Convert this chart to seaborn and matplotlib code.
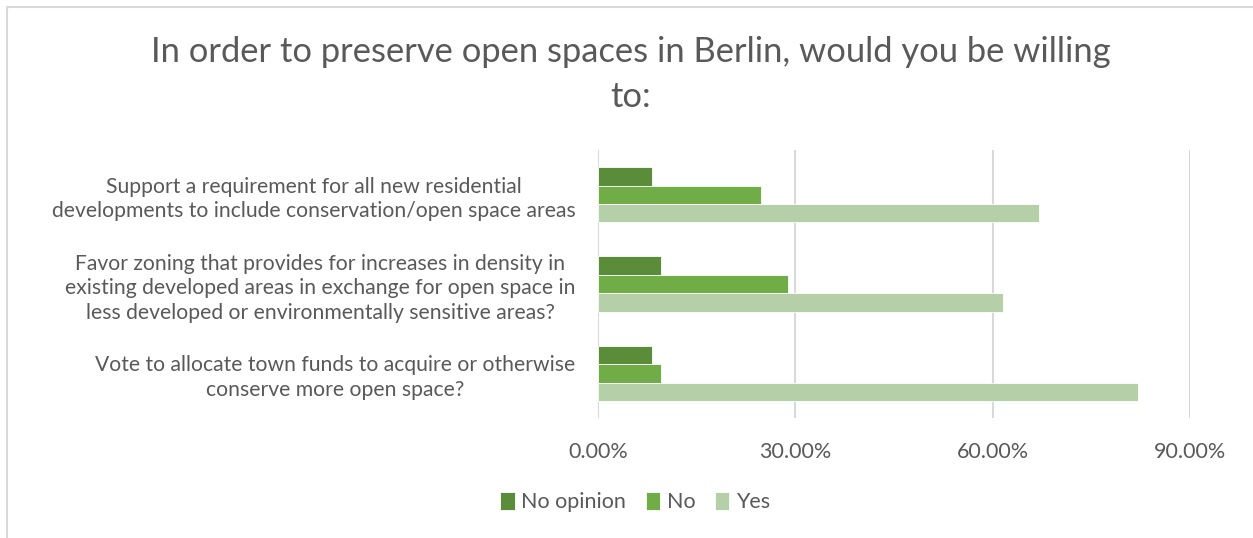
import matplotlib
matplotlib.use("Agg")
import matplotlib.pyplot as plt
from matplotlib.patches import Rectangle
from matplotlib.ticker import FuncFormatter
import seaborn as sns
import pandas as pd

questions = [
    "Support a requirement for all new residential\ndevelopments to include conservation/open space areas",
    "Favor zoning that provides for increases in density in\nexisting developed areas in exchange for open space in\nless developed or environmentally sensitive areas?",
    "Vote to allocate town funds to acquire or otherwise\nconserve more open space?",
]
answers = ["No opinion", "No", "Yes"]
no_opinion = [8.2, 9.6, 8.2]
no = [24.7, 28.8, 9.6]
yes = [67.1, 61.6, 82.2]
x_ticks = [0, 30, 60, 90]

colors = {"No opinion": "#5B8C3A", "No": "#70AD47", "Yes": "#B5CFA8"}
text_color = "#595959"

rows = []
for answer, values in zip(answers, [no_opinion, no, yes]):
    for q, v in zip(questions, values):
        rows.append({"question": q, "answer": answer, "percent": v})
df = pd.DataFrame(rows)

sns.set_theme(style="white")
plt.rcParams["font.family"] = ["Lato", "DejaVu Sans"]

fig = plt.figure(figsize=(12.53, 5.38), dpi=100)
ax = fig.add_axes([0.4775, 0.223, 0.472, 0.498])

sns.barplot(data=df, y="question", x="percent", hue="answer",
            order=questions, hue_order=answers, palette=colors,
            width=0.62, orient="h", ax=ax, legend=True,
            edgecolor="white", linewidth=0.6, saturation=1)

ax.set_xlim(0, 90)
ax.set_ylim(2.5, -0.5)
ax.set_xticks(x_ticks)
ax.xaxis.set_major_formatter(FuncFormatter(lambda v, _: f"{v:.2f}%"))
ax.grid(axis="x", color="#D9D9D9", linewidth=1.5)
ax.set_axisbelow(True)
for s in ax.spines.values():
    s.set_visible(False)
ax.set_xlabel("")
ax.set_ylabel("")
ax.tick_params(axis="x", length=0, pad=17, labelsize=15.5, labelcolor=text_color)
ax.tick_params(axis="y", length=0, pad=16.5, labelsize=15.2, labelcolor=text_color)
for lab in ax.get_yticklabels():
    lab.set_multialignment("center")
    lab.set_linespacing(1.28)

handles, labels = ax.get_legend_handles_labels()
ax.legend_.remove()
fig.legend(handles, labels, loc="center", bbox_to_anchor=(635 / 1253, 1 - 502 / 538),
           ncol=3, frameon=False, fontsize=15.5, labelcolor=text_color,
           handlelength=0.68, handleheight=0.9, handletextpad=0.3, columnspacing=0.9)

fig.text(631 / 1253, 1 - 52 / 538,
         "In order to preserve open spaces in Berlin, would you be willing",
         ha="center", va="center", fontsize=24.8, color=text_color)
fig.text(631 / 1253, 1 - 97 / 538, "to:",
         ha="center", va="center", fontsize=24.8, color=text_color)

# chart frame
fig.patches.append(Rectangle((6.5 / 1253, -0.1), 1.2, 1 - 6.5 / 538 + 0.1,
                             transform=fig.transFigure, fill=False,
                             edgecolor="#D9D9D9", linewidth=1.5))

fig.savefig("out.png", dpi=100, facecolor="white")
